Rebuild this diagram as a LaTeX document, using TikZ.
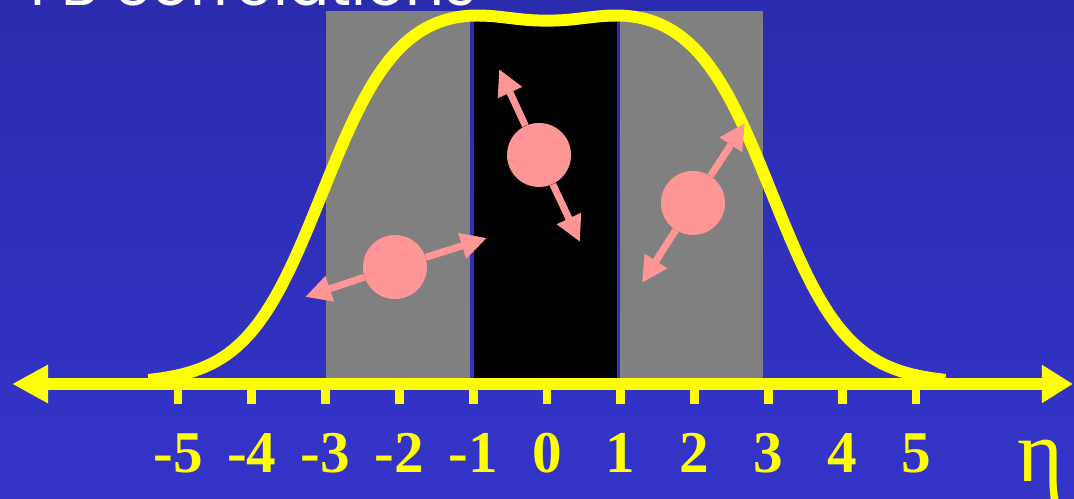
\documentclass[tikz,border=0pt]{standalone}
\usepackage{fontspec}
\setmainfont{Liberation Serif}
\newfontfamily\titlefont{Poppins}
\usetikzlibrary{arrows.meta}
\definecolor{slidetop}{HTML}{2B2BAE}
\definecolor{slidebot}{HTML}{3434C9}
\definecolor{bandgray}{HTML}{808080}
\definecolor{axisyellow}{HTML}{FFFF00}
\definecolor{spinpink}{HTML}{FF9696}

\begin{document}
\begin{tikzpicture}[
  x=1.476cm, y=1.476cm,
  spin/.style={draw=spinpink, line width=4pt,
               -{Triangle[length=5.2mm, width=5mm]}},
  particle/.style={circle, fill=spinpink, minimum size=1.28cm, inner sep=0pt},
  ticklbl/.style={anchor=base, text=axisyellow,
                  font=\fontsize{33.7}{36}\selectfont\bfseries},
]
  % --- slide background, title runs off the top -------------------
  \clip (-7.412,-1.558) rectangle (7.141,5.203);
  \shade[top color=slidetop, bottom color=slidebot]
    (-7.412,-1.558) rectangle (7.141,5.203);
  \node[anchor=base west, text=white, inner sep=0pt,
        font=\titlefont\fontsize{34.6}{40}\selectfont] (title)
    at (-7.005,5.135) {FB correlations};

  % --- forward / central / backward windows ----------------------
  \fill[bandgray] (-2.995,0) rectangle (-1.043,5.054);
  \fill[black]    (-0.989,0) rectangle (0.949,4.90);
  \fill[bandgray] (0.989,0)  rectangle (2.927,5.054);

  % --- dN/deta -----------------------------------------------------
  \draw[axisyellow, line width=6.8pt, smooth, samples=160, domain=-5.4:5.4]
    plot (\x, {5.15/(1+exp((abs(\x)-3.05)/0.52)) - 0.21*exp(-\x*\x/0.8)});

  % --- eta axis ----------------------------------------------------
  \draw[axisyellow, line width=7pt,
        {Triangle[length=7.2mm, width=7.2mm]}-{Triangle[length=6.2mm, width=7.2mm]}]
    (-7.249,0) -- (7.127,0);
  \foreach \i in {-5,...,5} {
    \draw[axisyellow, line width=5.1pt] (\i,0) -- (\i,-0.271);
    \node[ticklbl] (tick\i) at (\i,-1.206) {\i};
  }
  \node[anchor=base, text=axisyellow, inner sep=0pt,
        font=\fontsize{50}{50}\selectfont] (eta) at (6.68,-1.328) {η};

  % --- particles with their momenta --------------------------------
  \foreach \n/\c/\a/\b in {1/{-2.060,1.585}/{-3.279,1.179}/{-0.813,1.978},
                           2/{-0.108,3.103}/{-0.650,4.268}/{0.447,1.924},
                           3/{1.978,2.453}/{2.683,3.537}/{1.287,1.369}} {
    \node[particle] (p\n) at (\c) {};
    \coordinate (up\n) at (\a);
    \coordinate (dn\n) at (\b);
    \draw[spin] (p\n) -- (up\n);
    \draw[spin] (p\n) -- (dn\n);
  }
\end{tikzpicture}
\end{document}
